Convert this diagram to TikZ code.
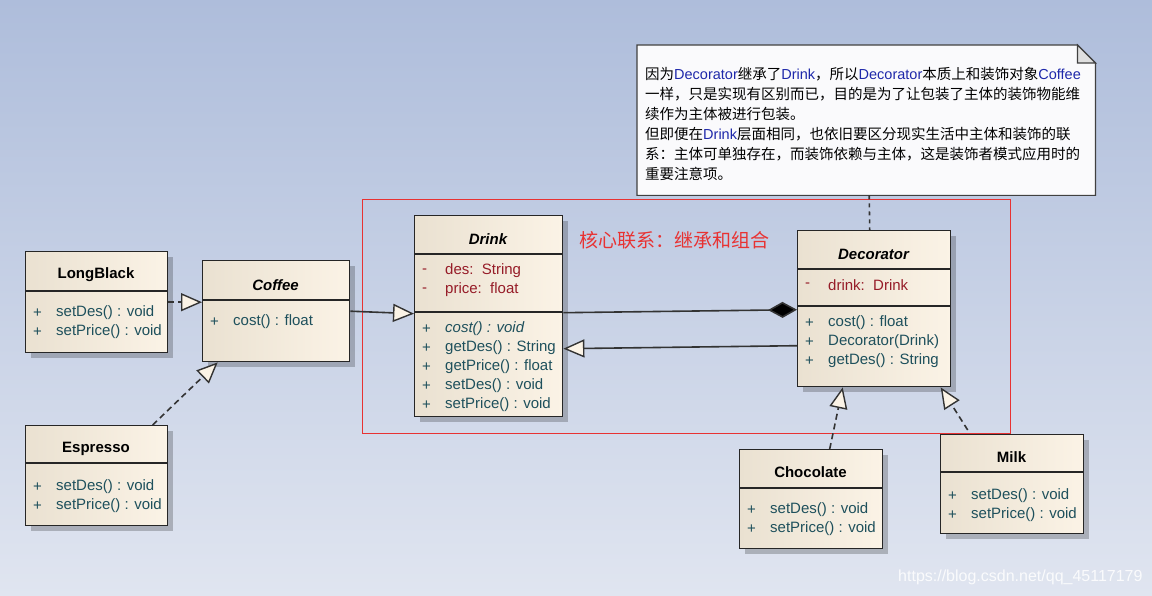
\documentclass[tikz,border=0pt]{standalone}
\usepackage{fontspec}
\setmainfont{Liberation Sans}
\newfontfamily\cjk{Noto Sans CJK SC}
\usetikzlibrary{arrows.meta,shadows}
\definecolor{bgtop}{RGB}{174,189,219}
\definecolor{bgbottom}{RGB}{224,229,240}
\definecolor{beigedark}{RGB}{234,225,209}
\definecolor{beigelight}{RGB}{251,243,230}
\definecolor{attrred}{RGB}{150,28,40}
\definecolor{methteal}{RGB}{30,80,92}
\definecolor{notefill}{RGB}{250,250,252}
\definecolor{noteblue}{RGB}{30,40,170}
\definecolor{framered}{RGB}{232,50,50}

% Latin words inside the Chinese note
\newcommand{\lat}[1]{{\rmfamily\color{noteblue}#1}}
% members of a class: prefix, left x, first y, symbol, style, list
\newcommand{\classrows}[6]{%
  \foreach \txt [count=\k from 0] in {#6}{
    \node[#5] (#1s\k) at (#2+8,#3+19*\k) {#4};
    \node[#5] (#1\k) at (#2+31,#3+19*\k) {\txt};
  }}

\begin{document}
\begin{tikzpicture}[x=1pt,y=-1pt,
    classbox/.style={draw=black!85, line width=1.4pt, left color=beigedark, right color=beigelight,
      anchor=north west, inner sep=0pt,
      drop shadow={shadow xshift=5pt, shadow yshift=-5pt, fill=black, opacity=.22}},
    sep/.style={draw=black!85, line width=1.4pt},
    title/.style={font=\fontsize{15}{18}\selectfont\bfseries, inner sep=0pt, yshift=-2pt},
    ititle/.style={title, font=\fontsize{15}{18}\selectfont\bfseries\itshape},
    attr/.style={text=attrred, anchor=west, inner sep=0pt, yshift=-2pt, font=\fontsize{15}{18}\selectfont},
    meth/.style={text=methteal, anchor=west, inner sep=0pt, yshift=-2pt, font=\fontsize{15}{18}\selectfont},
    implements/.style={draw=black!80, line width=1.6pt, dash pattern=on 6pt off 4pt,
      -{Triangle[length=21pt,width=18pt,fill=beigelight,line width=1.4pt]}},
    extends/.style={draw=black!80, line width=1.6pt,
      -{Triangle[length=21pt,width=18pt,fill=beigelight,line width=1.4pt]}},
    owns/.style={draw=black!80, line width=1.6pt, -{Diamond[length=29pt,width=16pt,fill=black]}},
    notelink/.style={draw=black!80, line width=1.6pt, dash pattern=on 4pt off 4pt}]

    \useasboundingbox (0,0) rectangle (1152,596);
    \fill[top color=bgtop, bottom color=bgbottom] (0,0) rectangle (1152,596);

    %% core frame
    \draw[framered, line width=1pt] (362,200) rectangle (1010,433);
    \node[font=\cjk\fontsize{19}{22}\selectfont, text=framered, anchor=west, inner sep=0pt] (corelabel) at (579,240) {核心联系：继承和组合};

    %% note
    \node[anchor=north west, minimum width=458pt, minimum height=150pt, inner sep=0pt] (note) at (637,45) {};
    \draw[fill=notefill, draw=black!75, line width=1.2pt] (note.south west) -- (note.north west) -- ([xshift=-18pt]note.north east)
      -- ([yshift=-18pt]note.north east) -- (note.south east) -- cycle;
    \draw[fill=gray!25, draw=black!75, line width=1.2pt] ([xshift=-18pt]note.north east) -- ([xshift=-18pt,yshift=-18pt]note.north east)
      -- ([yshift=-18pt]note.north east) -- cycle;
    \node[anchor=north west, inner sep=0pt, align=left, font=\cjk\fontsize{14.5}{20}\selectfont] (notetxt) at (645,67) {%
      因为\lat{Decorator}继承了\lat{Drink}，所以\lat{Decorator}本质上和装饰对象\lat{Coffee}\\
      一样，只是实现有区别而已，目的是为了让包装了主体的装饰物能维\\
      续作为主体被进行包装。\\
      但即便在\lat{Drink}层面相同，也依旧要区分现实生活中主体和装饰的联\\
      系：主体可单独存在，而装饰依赖与主体，这是装饰者模式应用时的\\
      重要注意项。};

    %% classes
    \node[classbox, minimum width=142pt, minimum height=101pt] (longblack) at (25,251) {};
    \draw[sep] ([yshift=-40pt]longblack.north west) -- ([yshift=-40pt]longblack.north east);
    \node[title] (longblackT) at (96,273) {LongBlack};
    \classrows{lb}{25}{311}{+}{meth}{setDes() : void, setPrice() : void}

    \node[classbox, minimum width=147pt, minimum height=101pt] (coffee) at (202,260) {};
    \draw[sep] ([yshift=-40pt]coffee.north west) -- ([yshift=-40pt]coffee.north east);
    \node[ititle] (coffeeT) at (275.5,283) {Coffee};
    \classrows{cf}{202}{320}{+}{meth}{cost() : float}

    \node[classbox, minimum width=142pt, minimum height=100pt] (espresso) at (25,425) {};
    \draw[sep] ([yshift=-38pt]espresso.north west) -- ([yshift=-38pt]espresso.north east);
    \node[title] (espressoT) at (96,447) {Espresso};
    \classrows{es}{25}{485}{+}{meth}{setDes() : void, setPrice() : void}

    \node[classbox, minimum width=148pt, minimum height=201pt] (drink) at (414,215) {};
    \draw[sep] ([yshift=-39pt]drink.north west) -- ([yshift=-39pt]drink.north east);
    \draw[sep] ([yshift=-97pt]drink.north west) -- ([yshift=-97pt]drink.north east);
    \node[ititle] (drinkT) at (488,237) {Drink};
    \classrows{dka}{414}{269}{-}{attr}{des:\ \ String, price:\ \ float}
    \classrows{dkm}{414}{327}{+}{meth}{\textit{cost() : void}, getDes() : String, getPrice() : float, setDes() : void, setPrice() : void}

    \node[classbox, minimum width=153pt, minimum height=156pt] (decorator) at (797,230) {};
    \draw[sep] ([yshift=-39pt]decorator.north west) -- ([yshift=-39pt]decorator.north east);
    \draw[sep] ([yshift=-76pt]decorator.north west) -- ([yshift=-76pt]decorator.north east);
    \node[ititle] (decoratorT) at (873.5,252) {Decorator};
    \classrows{dca}{797}{283}{-}{attr}{drink:\ \ Drink}
    \classrows{dcm}{797}{321}{+}{meth}{cost() : float, Decorator(Drink), getDes() : String}

    \node[classbox, minimum width=143pt, minimum height=99pt] (chocolate) at (739,449) {};
    \draw[sep] ([yshift=-39pt]chocolate.north west) -- ([yshift=-39pt]chocolate.north east);
    \node[title] (chocolateT) at (810.5,470) {Chocolate};
    \classrows{ch}{739}{508}{+}{meth}{setDes() : void, setPrice() : void}

    \node[classbox, minimum width=143pt, minimum height=99pt] (milk) at (940,434) {};
    \draw[sep] ([yshift=-38pt]milk.north west) -- ([yshift=-38pt]milk.north east);
    \node[title] (milkT) at (1011.5,455) {Milk};
    \classrows{mk}{940}{494}{+}{meth}{setDes() : void, setPrice() : void}

    %% connectors
    \draw[implements] (longblack.east) -- (longblack.east -| coffee.west);
    \draw[implements] ([xshift=56pt]espresso.north) -- ([xshift=-58.5pt]coffee.south);
    \draw[extends] (coffee.east) -- ([yshift=2.5pt]drink.west);
    \draw[owns] ([yshift=3.5pt]drink.east) -- ([yshift=-1pt]decorator.west);
    \draw[extends] ([yshift=-37pt]decorator.west) -- ([yshift=-32.5pt]drink.east);
    \draw[implements] ([xshift=18.5pt]chocolate.north) -- ([xshift=-31.5pt]decorator.south);
    \draw[implements] ([xshift=-44.5pt,yshift=4pt]milk.north) -- ([xshift=66.5pt]decorator.south);
    \draw[notelink] ([xshift=3pt]note.south) -- ([xshift=-4.5pt]decorator.north);

    %% watermark
    \node[font=\fontsize{16}{18}\selectfont, text=white, opacity=.85, anchor=west, inner sep=0pt] (mark) at (898,577) {https://blog.csdn.net/qq\_45117179};
\end{tikzpicture}
\end{document}
